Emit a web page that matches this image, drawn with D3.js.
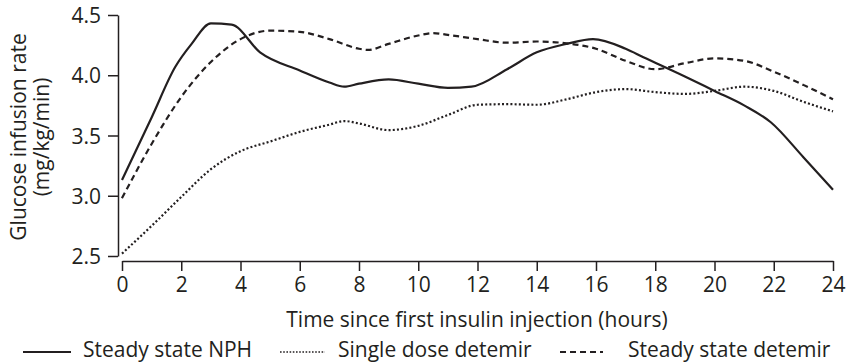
<!DOCTYPE html>
<html><head><meta charset="utf-8">
<script src="https://cdn.jsdelivr.net/npm/d3@7"></script>
<style>
body{margin:0;background:#fff;}
text{font-family:"Open Sans",sans-serif;fill:#231f20;}
</style></head>
<body><svg id="c" width="846" height="363"></svg>
<script>
// Data
const xTicks = [0,2,4,6,8,10,12,14,16,18,20,22,24];
const yTicks = [2.5,3.0,3.5,4.0,4.5];
const nphHours = [0,1,1.8,2.35,3,3.7,4.66,6,7,7.5,8,9,10,11,11.8,13,14,15,15.9,17,17.6,19,20,21,21.9,23,24];
const nphValues = [3.13,3.65,4.07,4.26,4.43,4.42,4.19,4.04,3.94,3.905,3.93,3.965,3.93,3.895,3.905,4.05,4.19,4.26,4.30,4.22,4.15,3.99,3.87,3.75,3.61,3.32,3.05];
const singleHours = [0,1,2,3,4,5,6,7,7.5,8,9,10,11,12,13,14,15,16,17,18,19,20,21,22,23,24];
const singleValues = [2.52,2.75,2.99,3.22,3.37,3.45,3.53,3.59,3.62,3.60,3.545,3.58,3.67,3.755,3.76,3.755,3.80,3.86,3.885,3.86,3.845,3.87,3.905,3.87,3.78,3.70];
const steadyHours = [0,1,2,3,4,5,6,7,8,8.3,9,10,10.5,11,12,13,14,15,16,17,18,19,20,21,22,23,24];
const steadyValues = [2.98,3.43,3.82,4.11,4.30,4.37,4.36,4.30,4.22,4.21,4.26,4.33,4.35,4.335,4.30,4.27,4.28,4.265,4.22,4.12,4.05,4.10,4.14,4.12,4.03,3.92,3.80];
const seriesNames = ["Steady state NPH","Single dose detemir","Steady state detemir"];

const svg = d3.select("#c");
const ink = "#231f20";
const FS = 21;
const x = d3.scaleLinear().domain([0,24]).range([122,833]);
const y = d3.scaleLinear().domain([2.5,4.5]).range([256,15]);

// Y axis
const yAxis = svg.append("g").attr("transform","translate(118,0)")
  .call(d3.axisLeft(y).tickValues(yTicks).tickFormat(d3.format(".1f")).tickSize(10).tickSizeOuter(0).tickPadding(7));
// X axis
const xAxis = svg.append("g").attr("transform","translate(0,261)")
  .call(d3.axisBottom(x).tickValues(xTicks).tickFormat(d3.format("d")).tickSize(10).tickSizeOuter(0).tickPadding(6));
[yAxis,xAxis].forEach(a=>{
  a.selectAll("path,line").attr("stroke",ink).attr("stroke-width",1.5);
  a.selectAll("text").attr("font-size",FS).attr("fill",ink).attr("font-family","Open Sans");
});
yAxis.selectAll("text").attr("dy","0.36em");

// Titles
svg.append("text").attr("x",477).attr("y",327).attr("text-anchor","middle").attr("font-size",FS)
  .text("Time since first insulin injection (hours)");
const yt = svg.append("text").attr("transform","translate(0,137) rotate(-90)").attr("text-anchor","middle").attr("font-size",FS);
yt.append("tspan").attr("x",0).attr("y",26).text("Glucose infusion rate");
yt.append("tspan").attr("x",0).attr("y",49).text("(mg/kg/min)");

// Lines
const line = d3.line().x(d=>x(d[0])).y(d=>y(d[1])).curve(d3.curveMonotoneX);
const styles = [null,"2,2.2","6,4"];
const series = [
  d3.zip(nphHours,nphValues),
  d3.zip(singleHours,singleValues),
  d3.zip(steadyHours,steadyValues)
];
series.forEach((s,i)=>{
  svg.append("path").datum(s).attr("d",line).attr("fill","none").attr("stroke",ink)
    .attr("stroke-width",2.2).attr("stroke-dasharray",styles[i]);
});

// Legend
const leg = [[23,71,83],[280,325,338],[560,603,628]];
leg.forEach((l,i)=>{
  svg.append("line").attr("x1",l[0]).attr("x2",l[1]).attr("y1",352).attr("y2",352)
    .attr("stroke",ink).attr("stroke-width",i===1?1.6:2.2).attr("stroke-dasharray",i===1?"1.6,1.6":styles[i]);
  svg.append("text").attr("x",l[2]).attr("y",357).attr("font-size",FS).text(seriesNames[i]);
});
</script></body></html>
